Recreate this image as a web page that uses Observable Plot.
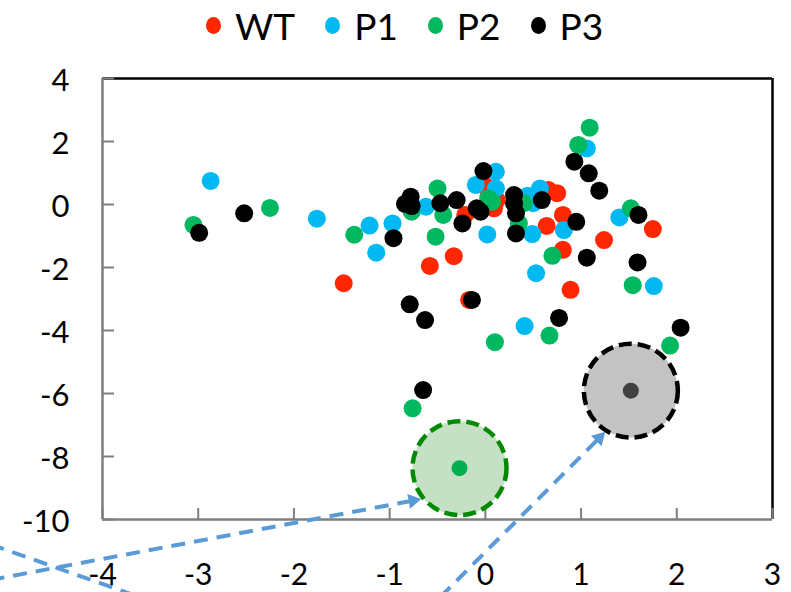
<!DOCTYPE html>
<html><head><meta charset="utf-8">
<script src="https://cdn.jsdelivr.net/npm/d3@7"></script>
<script src="https://cdn.jsdelivr.net/npm/@observablehq/plot@0.6"></script>
<style>
body{margin:0;background:#fff;font-family:Lato, "Open Sans", sans-serif;overflow:hidden;}
#legend{height:50px;display:flex;align-items:center;padding-left:206px;gap:30px;font-size:37px;color:#000;}
.item{display:flex;align-items:center;gap:14px;}
.sw{width:15px;height:17px;border-radius:50%;display:inline-block;}
</style></head><body>
<div id="legend"></div>
<div id="chart"></div>
<script>
// ---- series ----
const seriesNames = ["WT", "P1", "P2", "P3"];
const seriesColors = ["#ff2600", "#00b9f2", "#00b860", "#000000"];

const wtX = [-1.48, -0.58, -0.33, -0.17, -0.21, 0.09, 0.00, 0.12, 0.66, 0.75, 0.64, 0.81, 0.81, 0.89, 1.24, 1.75];
const wtY = [-2.50, -1.95, -1.64, -3.03, -0.33, -0.12, 0.58, 0.14, 0.46, 0.36, -0.68, -0.33, -1.44, -2.71, -1.13, -0.78];

const p1X = [-2.87, -1.76, -1.21, -1.14, -0.97, -0.62, -0.10, 0.11, 0.11, 0.02, 0.44, 0.50, 0.57, 0.49, 0.82, 0.53, 0.41, 1.06, 1.40, 1.76];
const p1Y = [0.75, -0.45, -0.67, -1.53, -0.60, -0.07, 0.62, 1.04, 0.51, -0.95, 0.28, 0.04, 0.51, -0.94, -0.81, -2.18, -3.86, 1.78, -0.41, -2.59];

const p2X = [-3.05, -2.25, -1.37, -0.77, -0.50, -0.44, -0.52, 0.03, 0.07, 0.40, 0.35, 0.70, 0.97, 1.09, 1.52, 1.54, 0.10, 0.67, 1.93, -0.76];
const p2Y = [-0.65, -0.11, -0.96, -0.23, 0.51, -0.33, -1.02, 0.20, 0.09, 0.04, -0.60, -1.63, 1.89, 2.44, -0.12, -2.56, -4.37, -4.16, -4.48, -6.47];

const p3X = [-2.99, -2.52, -0.96, -0.78, -0.84, -0.77, -0.47, -0.30, -0.24, -0.09, -0.05, -0.02, 0.30, 0.30, 0.32, 0.32, 0.59, 0.95, 0.93, 1.08, 1.19, 1.06, 1.60, 1.59, -0.79, -0.63, -0.14, 0.77, 2.04, -0.65];
const p3Y = [-0.90, -0.28, -1.07, 0.25, 0.02, -0.05, 0.04, 0.14, -0.60, -0.12, -0.23, 1.06, 0.30, 0.04, -0.28, -0.92, 0.14, -0.55, 1.36, 0.99, 0.44, -1.69, -0.33, -1.84, -3.17, -3.67, -3.03, -3.60, -3.91, -5.89];

// ---- axes ----
const xTicks = [-4, -3, -2, -1, 0, 1, 2, 3];
const yTicks = [4, 2, 0, -2, -4, -6, -8, -10];

// ---- annotations ----
const circleNames = ["green", "gray"];
const circleX = [-0.27, 1.52];
const circleY = [-8.37, -5.91];
const circleFill = ["#c6e0c6", "#c3c3c3"];
const circleStroke = ["#008a00", "#000000"];
const circleDot = ["#00b050", "#404040"];

// arrows: start, end of dashed line, head position and rotation
const arrowX1 = [-5.17, -0.47, -5.17];
const arrowY1 = [-11.92, -12.46, -10.79];
const arrowX2 = [-0.757, 1.191, -3.70];
const arrowY2 = [-9.40, -7.41, -12.37];
const arrowHead = [true, true, false];
const arrowAngle = [79.5, 45, 0];

// ---- build tables ----
const allX = [wtX, p1X, p2X, p3X];
const allY = [wtY, p1Y, p2Y, p3Y];
const points = [];
seriesNames.forEach((s, i) => allX[i].forEach((x, j) => points.push({s, x, y: allY[i][j]})));
const circles = circleNames.map((n, i) => ({n, x: circleX[i], y: circleY[i], fill: circleFill[i], stroke: circleStroke[i], dot: circleDot[i]}));
const arrows = arrowX1.map((x1, i) => ({x1, y1: arrowY1[i], x2: arrowX2[i], y2: arrowY2[i], head: arrowHead[i], angle: arrowAngle[i]}));

// ---- legend ----
const lg = document.getElementById("legend");
seriesNames.forEach((s, i) => {
  const it = document.createElement("span"); it.className = "item";
  const sw = document.createElement("span"); sw.className = "sw"; sw.style.background = seriesColors[i];
  const t = document.createElement("span"); t.textContent = s;
  it.append(sw, t); lg.append(it);
});

const W = 791, H = 542, ML = 102, MR = 19, MT = 28, MB = 73;
const arrowColor = "#5b9bd5";

const chart = Plot.plot({
  width: W, height: H, marginLeft: ML, marginRight: MR, marginTop: MT, marginBottom: MB,
  x: {domain: [-4, 3]},
  y: {domain: [-10, 4]},
  color: {domain: seriesNames, range: seriesColors},
  style: {fontFamily: "Lato, 'Open Sans', sans-serif", fontSize: "31px", color: "#000", background: "transparent", overflow: "visible"},
  marks: [
    Plot.ruleY([4], {stroke: "#000", strokeWidth: 2.5}),
    Plot.ruleX([3], {stroke: "#000", strokeWidth: 2.5}),
    Plot.ruleX([-4], {stroke: "#7f7f7f", strokeWidth: 2.5}),
    Plot.ruleY([-10], {stroke: "#7f7f7f", strokeWidth: 2.5}),
    Plot.tickY(yTicks, {y: d => d, stroke: "#7f7f7f", strokeWidth: 2, insetRight: W - ML - MR - 12}),
    Plot.tickX(xTicks, {x: d => d, stroke: "#7f7f7f", strokeWidth: 2, insetTop: H - MT - MB - 11}),
    Plot.axisY(yTicks, {tickSize: 0, tickPadding: 33, fontSize: 31, dy: 3, tickFormat: d => String(d)}),
    Plot.axisX(xTicks, {tickSize: 0, tickPadding: 44, fontSize: 30, tickFormat: d => String(d)}),
    Plot.dot(points, {x: "x", y: "y", fill: "s", r: 9}),
    Plot.dot(circles, {x: "x", y: "y", r: 47, fill: "fill", stroke: "stroke", strokeWidth: 4.5, strokeDasharray: "13,6"}),
    Plot.dot(circles, {x: "x", y: "y", r: 8, fill: "dot"}),
    Plot.link(arrows, {x1: "x1", y1: "y1", x2: "x2", y2: "y2", stroke: arrowColor, strokeWidth: 4, strokeDasharray: "14,9"}),
    Plot.dot(arrows.filter(a => a.head), {x: "x2", y: "y2", symbol: "triangle", r: 5.5, fill: arrowColor, rotate: "angle"})
  ]
});
document.getElementById("chart").append(chart);
</script>
</body></html>
